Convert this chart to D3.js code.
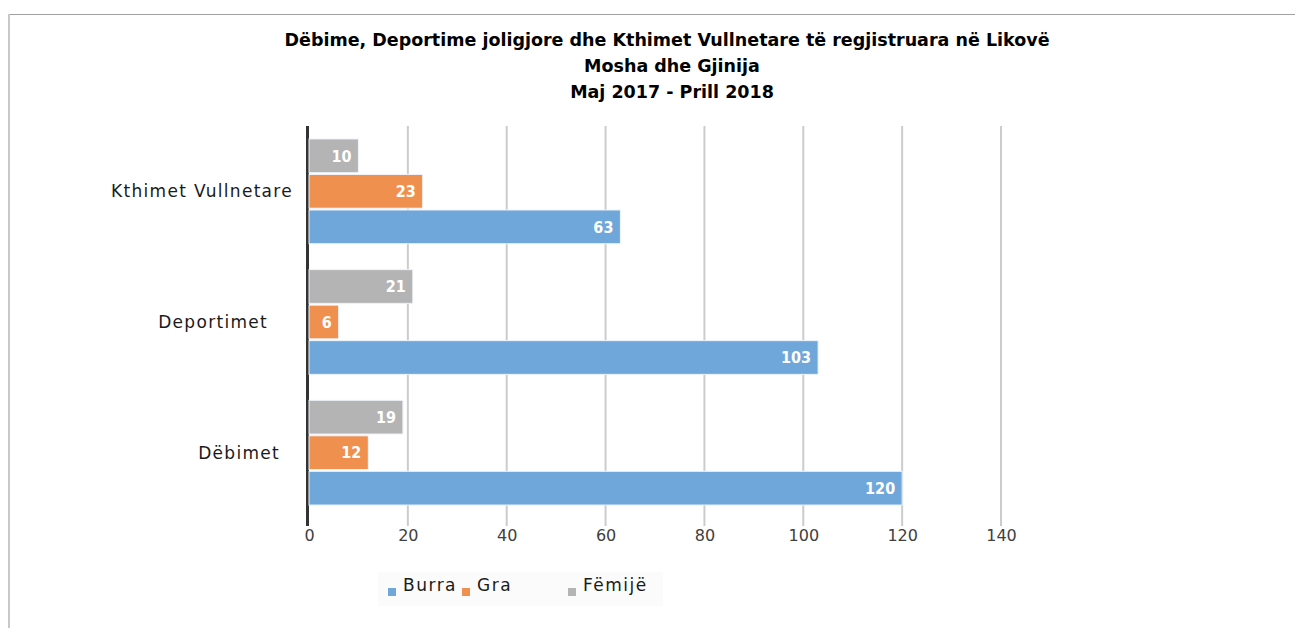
<!DOCTYPE html>
<html>
<head>
<meta charset="utf-8">
<script src="https://d3js.org/d3.v7.min.js"></script>
<style>
  body { margin: 0; background: #fff; }
  svg { display: block; }
</style>
</head>
<body>
<div id="chart"></div>
<script>
var categories = ['Kthimet Vullnetare', 'Deportimet', 'Dëbimet'];
var series = ['Fëmijë', 'Gra', 'Burra'];
var legendOrder = ['Burra', 'Gra', 'Fëmijë'];
var burra = [63, 103, 120];
var gra = [23, 6, 12];
var femije = [10, 21, 19];
var xTicks = [0, 20, 40, 60, 80, 100, 120, 140];
var titleLines = ['Dëbime, Deportime joligjore dhe Kthimet Vullnetare të regjistruara në Likovë',
                  'Mosha dhe Gjinija', 'Maj 2017 - Prill 2018'];

var values = { 'Burra': burra, 'Gra': gra, 'Fëmijë': femije };
var colors = { 'Burra': '#70a7db', 'Gra': '#f0904f', 'Fëmijë': '#b4b4b4' };
// label right edges differ a bit in the original
var labelShift = [0, -25, -13];

var width = 1295, height = 628;
var margin = { top: 126, right: 294, bottom: 110, left: 309 };

var svg = d3.select('#chart').append('svg')
    .attr('width', width)
    .attr('height', height);

// outer frame
svg.append('line').attr('x1', 8).attr('x2', width).attr('y1', 14.5).attr('y2', 14.5)
   .attr('stroke', '#a0a0a0').attr('stroke-width', 1.2);
svg.append('line').attr('x1', 9).attr('x2', 9).attr('y1', 14).attr('y2', height)
   .attr('stroke', '#c8c8c8').attr('stroke-width', 2);

// title
svg.append('g').selectAll('text')
   .data(titleLines)
   .enter()
   .append('text')
   .attr('x', function (d, i) { return i == 0 ? 667 : 672; })
   .attr('y', function (d, i) { return 46 + i * 26; })
   .attr('text-anchor', 'middle')
   .style('font', 'bold 17.5px "DejaVu Sans"')
   .attr('fill', '#000')
   .text(function (d) { return d; });

var x = d3.scaleLinear()
    .domain([0, 140])
    .range([margin.left, width - margin.right]);

var y = d3.scaleBand()
    .domain(categories)
    .range([margin.top, height - margin.bottom]);

var ySub = d3.scaleBand()
    .domain(series)
    .range([0, y.bandwidth()])
    .paddingInner(0.05)
    .paddingOuter(0.365);

var plotBottom = height - margin.bottom;

// gridlines
svg.append('g').selectAll('line')
   .data(xTicks.slice(1))
   .enter()
   .append('line')
   .attr('x1', function (d) { return x(d); })
   .attr('x2', function (d) { return x(d); })
   .attr('y1', margin.top)
   .attr('y2', plotBottom + 8)
   .attr('stroke', '#cccccc')
   .attr('stroke-width', 2);

// x axis labels
var xAxis = d3.axisBottom(x).tickValues(xTicks).tickSize(0).tickPadding(12);
var gx = svg.append('g')
   .attr('transform', 'translate(0,' + plotBottom + ')')
   .call(xAxis);
gx.select('.domain').remove();
gx.selectAll('text')
  .style('font', '16px "DejaVu Sans"')
  .attr('fill', '#404040');

// vertical axis
svg.append('line')
   .attr('x1', x(0) - 1.5).attr('x2', x(0) - 1.5)
   .attr('y1', margin.top).attr('y2', plotBottom + 8)
   .attr('stroke', '#333').attr('stroke-width', 3);

// bars
var groups = svg.append('g').selectAll('g')
   .data(categories)
   .enter()
   .append('g')
   .attr('transform', function (d) { return 'translate(0,' + y(d) + ')'; });

groups.selectAll('rect')
   .data(function (d, i) { return series.map(function (s) { return { s: s, v: values[s][i] }; }); })
   .enter()
   .append('rect')
   .attr('x', x(0))
   .attr('y', function (d) { return ySub(d.s); })
   .attr('width', function (d) { return x(d.v) - x(0); })
   .attr('height', ySub.bandwidth())
   .attr('fill', function (d) { return colors[d.s]; })
   .attr('stroke', '#eef4fb')
   .attr('stroke-width', 1);

groups.selectAll('text.val')
   .data(function (d, i) { return series.map(function (s) { return { s: s, v: values[s][i] }; }); })
   .enter()
   .append('text')
   .attr('class', 'val')
   .attr('x', function (d) { return x(d.v) - 7; })
   .attr('y', function (d) { return ySub(d.s) + ySub.bandwidth() / 2; })
   .attr('dy', '0.36em')
   .attr('text-anchor', 'end')
   .style('font', 'bold 16px "DejaVu Sans Condensed", "DejaVu Sans"')
   .attr('fill', '#fff')
   .text(function (d) { return d.v; });

// category labels
svg.append('g').selectAll('text')
   .data(categories)
   .enter()
   .append('text')
   .attr('x', function (d, i) { return 293 + labelShift[i]; })
   .attr('y', function (d) { return y(d) + y.bandwidth() / 2; })
   .attr('dy', '0.36em')
   .attr('text-anchor', 'end')
   .style('font', '17px "DejaVu Sans"')
   .style('letter-spacing', '1.3px')
   .attr('fill', '#1a1a1a')
   .text(function (d) { return d; });

// legend
svg.append('rect')
   .attr('x', 378).attr('y', 572).attr('width', 285).attr('height', 34)
   .attr('fill', '#fbfbfb');
var legendX = [388, 462, 568];
var lg = svg.append('g').selectAll('g')
   .data(legendOrder)
   .enter()
   .append('g')
   .attr('transform', function (d, i) { return 'translate(' + legendX[i] + ',0)'; });
lg.append('rect')
  .attr('x', 0).attr('y', 588).attr('width', 8).attr('height', 8)
  .attr('fill', function (d) { return colors[d]; });
lg.append('text')
  .attr('x', 15).attr('y', 591)
  .style('font', '17px "DejaVu Sans"')
  .style('letter-spacing', '1.5px')
  .attr('fill', '#1a1a1a')
  .text(function (d) { return d; });
</script>
</body>
</html>
